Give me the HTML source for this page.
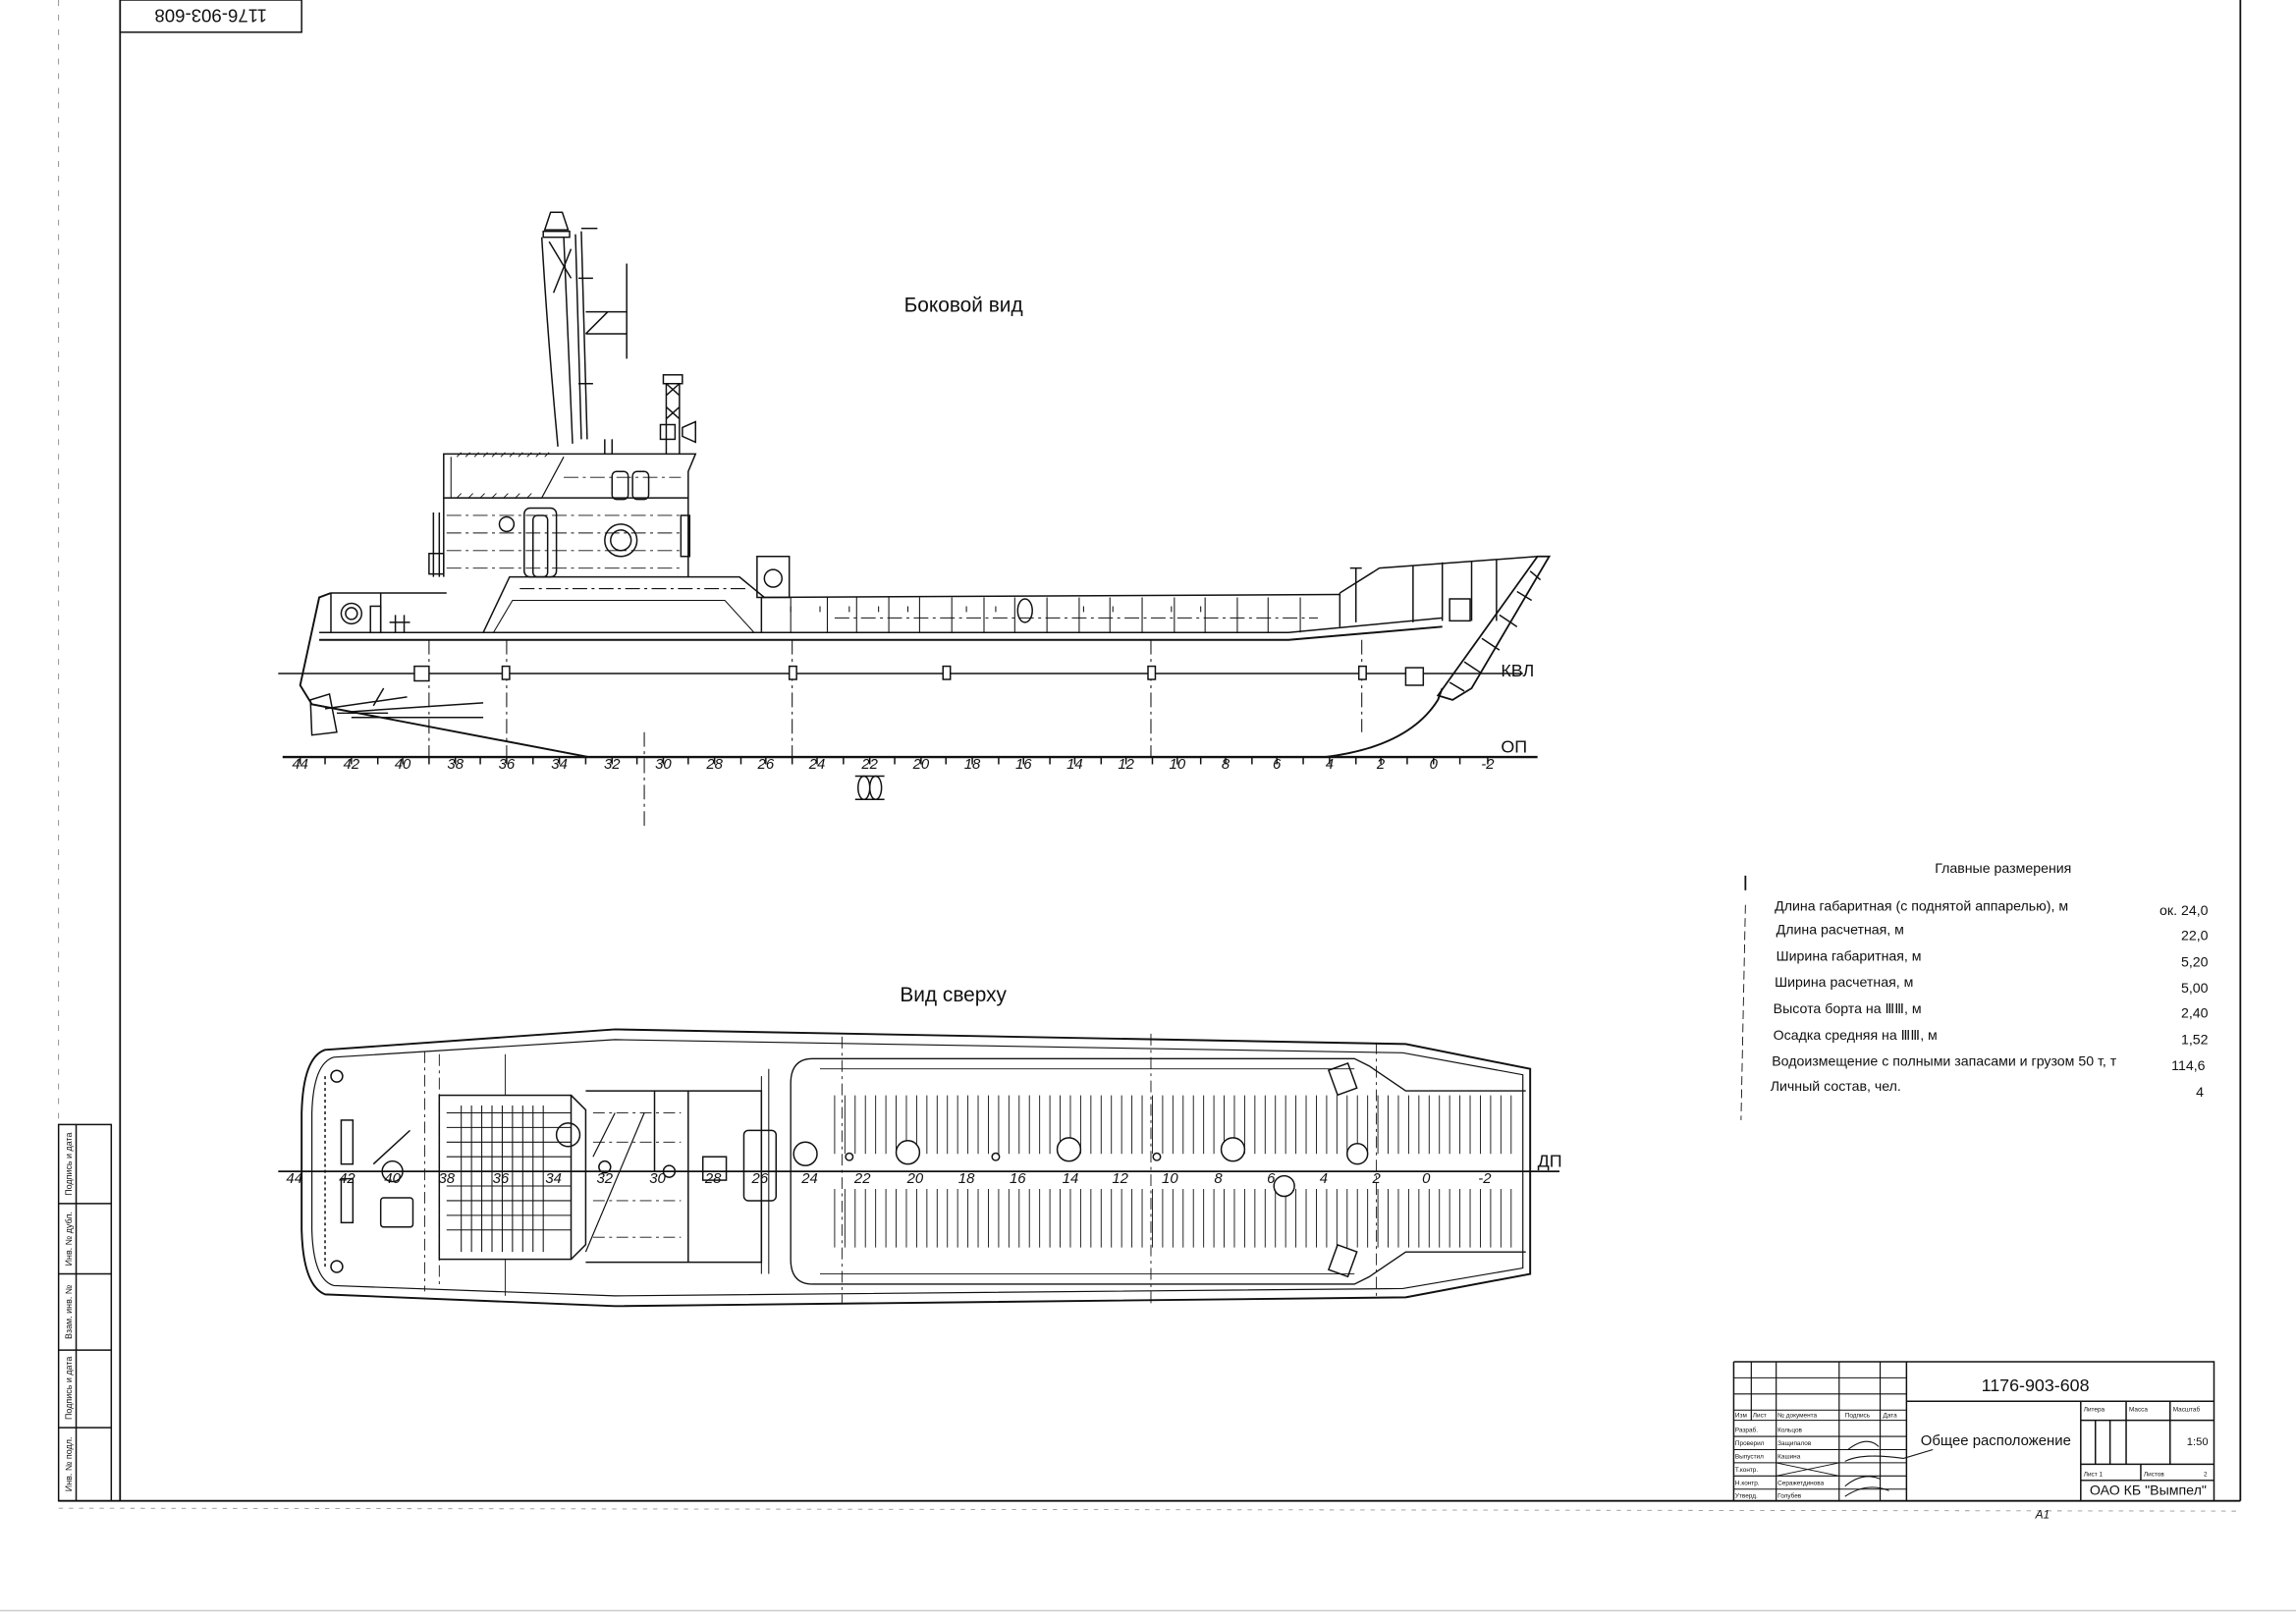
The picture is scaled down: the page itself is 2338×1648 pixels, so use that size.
<!DOCTYPE html>
<html><head><meta charset="utf-8"><style>
html,body{margin:0;padding:0;background:#fff;}
svg{display:block}
text{font-family:"Liberation Sans",sans-serif;fill:#111}
</style></head><body>
<svg width="2338" height="1648" viewBox="0 0 1568 1105" preserveAspectRatio="none" xmlns="http://www.w3.org/2000/svg">
<rect width="1568" height="1105" fill="#fff"/>
<g stroke="#111" fill="none" stroke-width="1">
<line x1="82" y1="0" x2="82" y2="1025" stroke-width="1.2"/>
<line x1="1530" y1="0" x2="1530" y2="1025" stroke-width="1.2"/>
<line x1="40" y1="1025" x2="1530" y2="1025" stroke-width="1.3"/>
<line x1="40" y1="1030" x2="1530" y2="1032" stroke="#999" stroke-width="0.6" stroke-dasharray="3,4"/>
<line x1="40" y1="0" x2="40" y2="1030" stroke="#888" stroke-width="0.6" stroke-dasharray="4,6"/>
<rect x="82" y="0" width="124" height="22"/>
<line x1="0" y1="1100" x2="1568" y2="1100" stroke="#ccc" stroke-width="1"/>
<rect x="40" y="768" width="36" height="257"/>
<line x1="52" y1="768" x2="52" y2="1025"/>
<line x1="40" y1="822" x2="76" y2="822"/>
<line x1="40" y1="870" x2="76" y2="870"/>
<line x1="40" y1="922" x2="76" y2="922"/>
<line x1="40" y1="975" x2="76" y2="975"/>
</g>
<text transform="rotate(180 144 11)" x="144" y="15.5" font-size="12.5" text-anchor="middle">1176-903-608</text>
<g font-size="6">
<text transform="translate(49,795) rotate(-90)" text-anchor="middle">Подпись и дата</text>
<text transform="translate(49,846) rotate(-90)" text-anchor="middle">Инв. № дубл.</text>
<text transform="translate(49,896) rotate(-90)" text-anchor="middle">Взам. инв. №</text>
<text transform="translate(49,948) rotate(-90)" text-anchor="middle">Подпись и дата</text>
<text transform="translate(49,1000) rotate(-90)" text-anchor="middle">Инв. № подл.</text>
</g>

<text x="658" y="213" font-size="14" text-anchor="middle">Боковой вид</text>
<g stroke="#111" fill="none" stroke-width="1">
<path d="M226,405 L218,408 L205,468 L213,481 L402,517 L905,517 Q962,510 982,478 L985,470" stroke-width="1.3"/>
<path d="M218,432 L880,432 L985,422"/>
<path d="M218,437 L880,437 L985,428" stroke-width="1.3"/>
<path d="M982,475 L1050,380 L1058,380 L1005,470 L992,478 Z" stroke-width="1.2"/>
<path d="M990,466 L1000,472 M1000,452 L1012,460 M1012,436 L1024,444 M1024,420 L1036,428 M1036,404 L1046,410 M1045,390 L1052,396"/>
<path d="M915,405 L942,388 L1050,380"/>
<path d="M915,428 L915,405 M965,386 L965,425 M985,384 L985,424 M1005,383 L1005,424 M1022,382 L1022,424"/>
<rect x="990" y="409" width="14" height="15"/>
<path d="M926,425 L926,388 M922,388 L930,388"/>
<path d="M520,408 L915,406"/>
<path d="M520,408 L520,432"/>
<g stroke-width="0.7">
<path d="M540,408V432 M565,408V432 M585,408V432 M607,408V432 M628,408V432 M650,408V432 M672,408V432 M693,408V432 M715,408V432 M737,408V432 M758,408V432 M780,408V432 M802,408V432 M823,408V432 M845,408V432 M866,408V432 M888,408V432"/>
<path d="M540,414V418 M560,414V418 M580,414V418 M600,414V418 M620,414V418 M660,414V418 M680,414V418 M740,414V418 M760,414V418 M800,414V418 M820,414V418"/>
<path d="M570,422 L900,422" stroke-dasharray="10,3,2,3"/>
</g>
<ellipse cx="700" cy="417" rx="5" ry="8"/>
<rect x="517" y="380" width="22" height="28"/>
<circle cx="528" cy="395" r="6"/>
<path d="M330,432 L348,394 L505,394 L522,408"/>
<path d="M337,432 L350,410 L495,410 L515,432" stroke-width="0.7"/>
<path d="M355,402 L510,402" stroke-dasharray="10,3,2,3" stroke-width="0.7"/>
<path d="M226,405 L305,405 M226,405 L226,432 M260,405 L260,432"/>
<circle cx="240" cy="419" r="7"/><circle cx="240" cy="419" r="4"/>
<rect x="253" y="414" width="7" height="18"/>
<path d="M266,425 L280,425 M270,420 L270,432 M276,420 L276,432"/>
<path d="M303,394 L303,340 M303,340 L470,340 M470,394 L470,322 L475,310 L303,310 L303,340"/>
<path d="M303,340 L370,340 L385,312" stroke-width="0.8"/>
<path d="M308,312 L308,340" stroke-width="0.7"/>
<g stroke-width="0.6"><path d="M312,312l3,-3 M318,312l3,-3 M324,312l3,-3 M330,312l3,-3 M336,312l3,-3 M342,312l3,-3 M348,312l3,-3 M354,312l3,-3 M360,312l3,-3 M366,312l3,-3 M372,312l3,-3 M312,340l3,-3 M320,340l3,-3 M328,340l3,-3 M336,340l3,-3 M344,340l3,-3 M352,340l3,-3 M360,340l3,-3"/></g>
<path d="M305,352 L465,352 M305,364 L465,364 M305,376 L465,376 M305,388 L465,388 M385,326 L465,326" stroke-dasharray="10,3,2,3" stroke-width="0.6"/>
<rect x="418" y="322" width="11" height="19" rx="3"/>
<rect x="432" y="322" width="11" height="19" rx="3"/>
<circle cx="346" cy="358" r="5"/>
<rect x="358" y="347" width="22" height="47" rx="4"/>
<rect x="364" y="352" width="10" height="42" rx="3"/>
<circle cx="424" cy="369" r="11"/><circle cx="424" cy="369" r="7"/>
<rect x="465" y="352" width="6" height="28"/>
<path d="M296,350 L296,394 M300,350 L300,394"/>
<rect x="293" y="378" width="10" height="14"/>
<path d="M381,305 Q374,230 370,162 M391,303 Q388,230 385,162 M397,300 L393,160 M401,300 L397,158"/>
<path d="M371,162 L389,162 L389,158 L371,158 Z"/>
<path d="M372,157 L376,145 L384,145 L388,157 Z"/>
<path d="M375,165 L390,190 M390,170 L378,200"/>
<path d="M400,213 L428,213 M400,228 L428,228 M428,180 L428,245 M400,228 L415,213"/>
<path d="M397,156 L408,156 M395,190 L405,190 M395,262 L405,262"/>
<path d="M455,310 L455,262 M464,310 L464,262 M455,262 L464,270 M464,262 L455,270 M455,278 L464,286 M464,278 L455,286"/>
<rect x="453" y="256" width="13" height="6"/>
<rect x="451" y="290" width="10" height="10"/>
<path d="M466,292 L475,288 L475,302 L466,298 Z"/>
<path d="M413,310 L413,300 M418,310 L418,300"/>
<g stroke-dasharray="10,3,2,3" stroke-width="0.7">
<path d="M293,437V517 M346,437V517 M541,437V517 M786,437V517 M930,437V500 M440,500V565"/>
</g>
<line x1="190" y1="460" x2="1040" y2="460"/>
<g fill="#fff">
<rect x="283" y="455" width="10" height="10"/><rect x="343" y="455" width="5" height="9"/><rect x="539" y="455" width="5" height="9"/>
<rect x="644" y="455" width="5" height="9"/><rect x="784" y="455" width="5" height="9"/><rect x="928" y="455" width="5" height="9"/>
<rect x="960" y="456" width="12" height="12"/>
</g>
<path d="M212,478 L225,474 L230,500 L213,502 Z"/>
<path d="M230,487 L265,487 M222,484 L278,476 M240,490 L330,490 M240,486 L330,480"/>
<path d="M255,482 L262,470"/>
<line x1="193" y1="517" x2="1050" y2="517" stroke-width="1.6"/>
<path d="M205,517v5 M222,517v5 M240,517v5 M258,517v5 M275,517v5 M293,517v5 M311,517v5 M328,517v5 M346,517v5 M364,517v5 M382,517v5 M400,517v5 M418,517v5 M435,517v5 M453,517v5 M470,517v5 M488,517v5 M506,517v5 M523,517v5 M541,517v5 M558,517v5 M576,517v5 M594,517v5 M611,517v5 M629,517v5 M646,517v5 M664,517v5 M682,517v5 M699,517v5 M717,517v5 M734,517v5 M752,517v5 M769,517v5 M787,517v5 M804,517v5 M820,517v5 M837,517v5 M855,517v5 M872,517v5 M890,517v5 M908,517v5 M926,517v5 M943,517v5 M961,517v5 M979,517v5 M997,517v5 M1016,517v5"/>
<ellipse cx="590" cy="538" rx="4" ry="8"/><ellipse cx="598" cy="538" rx="4" ry="8"/>
<path d="M584,530 L604,530 M584,546 L604,546"/>
<line x1="1192" y1="598" x2="1192" y2="608" stroke-width="1.2"/>
<line x1="1192" y1="618" x2="1189" y2="765" stroke-width="0.6" stroke-dasharray="6,3"/>
</g>
<g font-size="10" font-style="italic" text-anchor="middle">
<text x="205" y="525">44</text><text x="240" y="525">42</text><text x="275" y="525">40</text><text x="311" y="525">38</text><text x="346" y="525">36</text><text x="382" y="525">34</text><text x="418" y="525">32</text><text x="453" y="525">30</text><text x="488" y="525">28</text><text x="523" y="525">26</text><text x="558" y="525">24</text><text x="594" y="525">22</text><text x="629" y="525">20</text><text x="664" y="525">18</text><text x="699" y="525">16</text><text x="734" y="525">14</text><text x="769" y="525">12</text><text x="804" y="525">10</text><text x="837" y="525">8</text><text x="872" y="525">6</text><text x="908" y="525">4</text><text x="943" y="525">2</text><text x="979" y="525">0</text><text x="1016" y="525">-2</text>
</g>
<text x="1025" y="462" font-size="12">КВЛ</text>
<text x="1025" y="514" font-size="12">ОП</text>

<text x="651" y="684" font-size="14" text-anchor="middle">Вид сверху</text>
<g stroke="#111" fill="none" stroke-width="1">
<path d="M222,717 Q207,722 206,760 L206,840 Q207,878 222,884 L420,892 L960,886 L1045,870 L1045,730 L960,713 L420,703 Z" stroke-width="1.3"/>
<path d="M228,722 Q214,726 213,760 L213,840 Q214,874 228,878 L420,885 L958,880 L1040,866 L1040,734 L958,719 L420,710 Z" stroke-width="0.8"/>
<path d="M555,723 L925,723 L935,728 L960,745 L1042,745 M555,723 Q540,723 540,740 L540,860 Q540,877 555,877 L925,877 L935,872 L960,855 L1042,855" stroke-width="0.9"/>
<path d="M560,730 L925,730 M560,870 L925,870" stroke-width="0.6"/>
<path d="M520,735 L520,870 M525,730 L525,870" stroke-width="0.7"/>
<rect x="910" y="728" width="14" height="18" transform="rotate(-20 917 737)"/>
<rect x="910" y="852" width="14" height="18" transform="rotate(20 917 861)"/>
<g stroke-width="0.6">
<path id="h1" d="M570,748V788 M577,748V788 M584,748V788 M591,748V788 M598,748V788 M605,748V788 M612,748V788 M619,748V788 M626,748V788 M633,748V788 M640,748V788 M647,748V788 M654,748V788 M661,748V788 M668,748V788 M675,748V788 M682,748V788 M689,748V788 M696,748V788 M703,748V788 M710,748V788 M717,748V788 M724,748V788 M731,748V788 M738,748V788 M745,748V788 M752,748V788 M759,748V788 M766,748V788 M773,748V788 M780,748V788 M787,748V788 M794,748V788 M801,748V788 M808,748V788 M815,748V788 M822,748V788 M829,748V788 M836,748V788 M843,748V788 M850,748V788 M857,748V788 M864,748V788 M871,748V788 M878,748V788 M885,748V788 M892,748V788 M899,748V788 M906,748V788 M913,748V788 M920,748V788 M927,748V788 M934,748V788 M941,748V788 M948,748V788 M955,748V788 M962,748V788 M969,748V788 M976,748V788 M983,748V788 M990,748V788 M997,748V788 M1004,748V788 M1011,748V788 M1018,748V788 M1025,748V788 M1032,748V788"/>
<use href="#h1" transform="translate(0,64)"/>
</g>
<g fill="#fff">
<circle cx="550" cy="788" r="8"/><circle cx="620" cy="787" r="8"/><circle cx="730" cy="785" r="8"/><circle cx="842" cy="785" r="8"/><circle cx="927" cy="788" r="7"/><circle cx="877" cy="810" r="7"/>
<circle cx="580" cy="790" r="2.5"/><circle cx="680" cy="790" r="2.5"/><circle cx="790" cy="790" r="2.5"/>
</g>
<rect x="300" y="748" width="90" height="112"/>
<path d="M390,748 L400,758 L400,850 L390,860"/>
<g stroke-width="0.7">
<path d="M305,760H390 M305,770H390 M305,780H390 M305,790H390 M305,810H390 M305,820H390 M305,830H390 M305,840H390"/>
<path d="M315,755V855 M322,755V855 M329,755V855 M336,755V855 M343,755V855 M350,755V855 M357,755V855 M364,755V855 M371,755V855"/>
</g>
<circle cx="388" cy="775" r="8"/>
<path d="M400,745 L470,745 L470,862 L400,862 M470,745 L520,745 L520,862 L470,862"/>
<path d="M405,760H465 M405,780H465 M405,820H465 M405,845H465" stroke-dasharray="8,3,2,3" stroke-width="0.6"/>
<path d="M400,855 L440,760 M405,790 L420,760" stroke-width="0.8"/>
<rect x="480" y="790" width="16" height="16"/>
<rect x="508" y="772" width="22" height="48" rx="3"/>
<circle cx="457" cy="800" r="4"/><circle cx="413" cy="797" r="4"/>
<path d="M447,745 L447,800"/>
<rect x="233" y="765" width="8" height="30"/><rect x="233" y="805" width="8" height="30"/>
<circle cx="268" cy="800" r="7"/>
<rect x="260" y="818" width="22" height="20" rx="2"/>
<path d="M255,795 L280,772"/>
<path d="M222,735 L222,865" stroke-dasharray="2,2"/>
<circle cx="230" cy="735" r="4"/><circle cx="230" cy="865" r="4"/>
<path d="M300,720 L300,880 M290,718 L290,882" stroke-dasharray="8,3,2,3" stroke-width="0.6"/>
<path d="M345,720 L345,748 M345,860 L345,885" stroke-width="0.6"/>
<path d="M575,708 L575,890 M786,706 L786,890 M940,712 L940,885" stroke-dasharray="8,3,2,3" stroke-width="0.6"/>
<line x1="190" y1="800" x2="1065" y2="800" stroke-width="1.2"/>
</g>
<g font-size="10" font-style="italic" text-anchor="middle">
<text x="201" y="808">44</text><text x="237" y="808">42</text><text x="268" y="808">40</text><text x="305" y="808">38</text><text x="342" y="808">36</text><text x="378" y="808">34</text><text x="413" y="808">32</text><text x="449" y="808">30</text><text x="487" y="808">28</text><text x="519" y="808">26</text>
<text x="553" y="808">24</text><text x="589" y="808">22</text><text x="625" y="808">20</text><text x="660" y="808">18</text><text x="695" y="808">16</text><text x="731" y="808">14</text><text x="765" y="808">12</text><text x="799" y="808">10</text><text x="832" y="808">8</text><text x="868" y="808">6</text><text x="904" y="808">4</text><text x="940" y="808">2</text><text x="974" y="808">0</text><text x="1014" y="808">-2</text>
</g>
<text x="1050" y="797" font-size="12">ДП</text>

<g font-size="9.5">
<text x="1368" y="596" text-anchor="middle">Главные размерения</text>
<text x="1212" y="622">Длина габаритная (с поднятой аппарелью), м</text>
<text x="1213" y="638">Длина расчетная, м</text>
<text x="1213" y="656">Ширина габаритная, м</text>
<text x="1212" y="674">Ширина расчетная, м</text>
<text x="1211" y="692">Высота борта на ⅢⅢ, м</text>
<text x="1211" y="710">Осадка средняя на ⅢⅢ, м</text>
<text x="1210" y="728">Водоизмещение с полными запасами и грузом 50 т, т</text>
<text x="1209" y="745">Личный состав, чел.</text>
<g text-anchor="end">
<text x="1508" y="625">ок. 24,0</text><text x="1508" y="642">22,0</text><text x="1508" y="660">5,20</text><text x="1508" y="678">5,00</text><text x="1508" y="695">2,40</text><text x="1508" y="713">1,52</text><text x="1506" y="731">114,6</text><text x="1505" y="749">4</text>
</g>
</g>

<g stroke="#111" fill="none" stroke-width="1">
<path d="M1184,930 L1512,930 L1512,1025 M1184,930 L1184,1025 M1302,930 L1302,1025"/>
<path d="M1302,957 L1512,957 M1421,957 L1421,1025 M1421,970 L1512,970 M1421,1000 L1512,1000 M1421,1011 L1512,1011 M1452,957 L1452,970 M1482,957 L1482,1000 M1452,970 L1452,1000 M1431,970 L1431,1000 M1441,970 L1441,1000 M1462,1000 L1462,1011"/>
<path d="M1184,941 L1302,941 M1184,952 L1302,952 M1184,963 L1302,963 M1184,970 L1302,970 M1184,981 L1302,981 M1184,990 L1302,990 M1184,999 L1302,999 M1184,1008 L1302,1008 M1184,1017 L1302,1017" stroke-width="0.7"/>
<path d="M1196,930 L1196,970 M1213,930 L1213,1025 M1256,930 L1256,1025 M1284,930 L1284,1025" stroke-width="0.8"/>
<path d="M1213,999 L1256,1008 M1213,1008 L1256,999" stroke-width="0.6"/>
<path d="M1262,990 Q1275,980 1283,988 M1260,998 Q1272,992 1300,996 L1320,990 M1260,1015 Q1272,1005 1284,1010 M1260,1022 Q1275,1012 1290,1018" stroke-width="0.7"/>
</g>
<text x="1390" y="950" font-size="12" text-anchor="middle">1176-903-608</text>
<text x="1363" y="987" font-size="10" text-anchor="middle">Общее расположение</text>
<text x="1508" y="987" font-size="7.5" text-anchor="end">1:50</text>
<text x="1467" y="1021" font-size="9.5" text-anchor="middle">ОАО КБ "Вымпел"</text>
<g font-size="4.3">
<text x="1423" y="964">Литера</text><text x="1454" y="964">Масса</text><text x="1484" y="964">Масштаб</text>
<text x="1423" y="1008">Лист 1</text><text x="1464" y="1008">Листов</text><text x="1505" y="1008">2</text>
<text x="1185" y="968">Изм</text><text x="1197" y="968">Лист</text><text x="1214" y="968">№ документа</text><text x="1260" y="968">Подпись</text><text x="1286" y="968">Дата</text>
<text x="1185" y="978">Разраб.</text><text x="1214" y="978">Кольцов</text>
<text x="1185" y="987">Проверил</text><text x="1214" y="987">Защипалов</text>
<text x="1185" y="996">Выпустил</text><text x="1214" y="996">Кашина</text>
<text x="1185" y="1005">Т.контр.</text>
<text x="1185" y="1014">Н.контр.</text><text x="1214" y="1014">Серажетдинова</text>
<text x="1185" y="1023">Утверд.</text><text x="1214" y="1023">Голубев</text>
</g>
<text x="1390" y="1037" font-size="8" font-style="italic" fill="#555">А1</text>
</svg>
</body></html>
